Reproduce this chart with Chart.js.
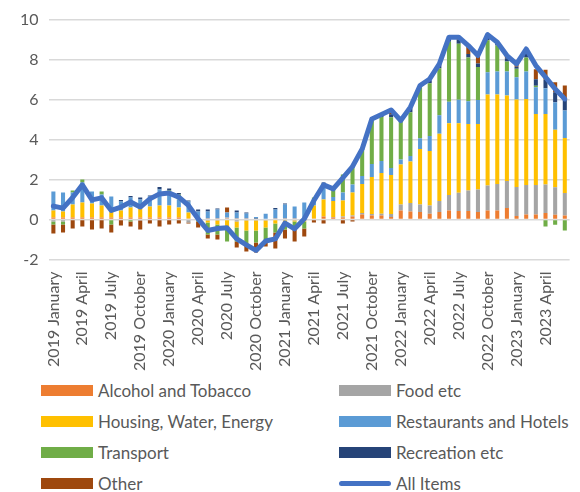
<!DOCTYPE html>
<html lang="en">
<head>
<meta charset="UTF-8">
<title>CPI contributions</title>
<script src="https://cdn.jsdelivr.net/npm/chart.js"></script>
<style>
  body { margin: 0; background: #fff; overflow: hidden; font-family: Lato, sans-serif; }
  #wrap { position: relative; width: 588px; height: 375px; }
  #legend { position: absolute; left: 41px; top: 375px; display: grid; grid-template-columns: 298px 250px; }
  .item { display: flex; align-items: center; height: 31px; font-size: 17px; color: #595959; white-space: nowrap; }
  .sw { width: 52px; height: 11px; margin-right: 5px; flex: none; }
  .sw.line { height: 5px; border-radius: 3px; }
</style>
</head>
<body>
<div id="wrap"><canvas id="cpiChart"></canvas></div>
<div id="legend"></div>

<script>
const months = [
  '2019 January','2019 February','2019 March','2019 April','2019 May','2019 June',
  '2019 July','2019 August','2019 September','2019 October','2019 November','2019 December',
  '2020 January','2020 February','2020 March','2020 April','2020 May','2020 June',
  '2020 July','2020 August','2020 September','2020 October','2020 November','2020 December',
  '2021 January','2021 February','2021 March','2021 April','2021 May','2021 June',
  '2021 July','2021 August','2021 September','2021 October','2021 November','2021 December',
  '2022 January','2022 February','2022 March','2022 April','2022 May','2022 June',
  '2022 July','2022 August','2022 September','2022 October','2022 November','2022 December',
  '2023 January','2023 February','2023 March','2023 April','2023 May','2023 June'
];

const alcohol = [0.1,0.1,0.1,0.1,0.1,0.1,0.1,0.1,0.1,0.1,0.1,0.1,0.1,0.1,0.05,0.05,0.05,0.05,
  0.05,0.05,0.05,0.02,0.03,0.05,0.05,0.05,0.05,0.05,0.15,0.1,0.1,0.15,0.25,0.2,0.2,0.12,
  0.45,0.4,0.37,0.28,0.37,0.45,0.42,0.42,0.37,0.45,0.45,0.57,0.17,0.25,0.25,0.32,0.23,0.2];
const food = [-0.1,-0.1,0,0,0,0,0,0,0,-0.05,0,0,0,0,-0.15,0,-0.05,-0.05,
  0.05,-0.1,-0.05,-0.05,-0.05,0,-0.05,-0.05,-0.05,0,0,0.02,0.05,0.05,0.07,0.07,0.08,0.15,
  0.3,0.42,0.38,0.42,0.55,0.78,0.92,1.03,1.13,1.25,1.33,1.35,1.45,1.48,1.48,1.43,1.38,1.12];
const housing = [0.35,0.3,0.65,0.75,0.7,0.6,0.3,0.35,0.5,0.45,0.55,0.6,0.6,0.5,0.3,0,-0.1,-0.2,
  -0.4,-0.3,-0.5,-0.5,-0.35,-0.2,-0.15,-0.05,-0.05,0.65,0.85,0.8,0.8,1.15,1.45,1.85,2.05,1.95,
  2.0,2.08,2.78,2.72,3.37,3.58,3.48,3.33,3.28,4.55,4.47,4.28,4.38,4.3,3.55,3.53,2.88,2.75];
const restaurants = [0.95,0.95,0.6,1.0,0.6,0.55,0.75,0.45,0.5,0.45,0.5,0.8,0.55,0.4,0.55,0.35,0.35,0.45,
  0.25,0.3,0.25,0.1,0.25,0.45,0.7,0.6,0.8,0.25,0.7,0.2,0.4,0.4,0.4,0.65,0.6,0.35,
  0.25,0.27,0.53,0.75,0.92,1.08,1.17,1.13,1.2,1.12,1.15,1.2,1.12,1.37,1.33,1.28,1.37,1.38];
const transport = [-0.15,-0.15,0.1,0.15,0,0.15,-0.25,0,-0.1,0,0,0,0.2,0.25,0,-0.1,-0.6,-0.5,
  -0.7,-0.7,-0.7,-0.6,-0.6,-0.45,-0.3,-0.35,-0.35,0.15,0.1,0.4,0.9,0.9,1.3,2.2,2.2,2.55,
  1.9,2.2,2.55,2.65,2.35,3.0,2.8,2.2,1.65,1.6,1.3,0.5,0.42,0.7,0.08,-0.35,-0.27,-0.55];
const recreation = [0,0,0,0,0,0,0,0.07,0.08,0.1,0.05,0.12,0.1,0.07,0.05,0.1,0.1,0.05,
  0,0.1,0.05,0,0,0.07,0.05,0,0,0,0.05,0,0,0.05,0.05,0.05,0.1,0.15,
  0.05,0.2,0.15,0.15,0.2,0.2,0.2,0.17,0.17,0.2,0.12,0.17,0.1,0.2,0.33,0.43,0.5,0.58];
const other = [-0.45,-0.4,-0.45,-0.35,-0.5,-0.45,-0.4,-0.3,-0.25,-0.45,-0.2,-0.35,-0.25,-0.2,-0.05,-0.3,-0.2,-0.25,
  0.25,-0.3,-0.35,-0.5,-0.35,-0.8,-0.45,-0.65,-0.4,-0.15,-0.2,0,-0.2,-0.1,0,0,0,0.2,
  0,0,0,0,0,0,0.13,0.42,0.38,0,0,0.12,0.1,0.13,0.5,0.5,0.5,0.67];
const allItems = [0.67,0.57,1.1,1.73,0.98,1.08,0.45,0.62,0.87,0.62,1.03,1.28,1.32,1.12,0.7,0.03,-0.55,-0.45,
  -0.42,-0.97,-1.27,-1.55,-1.08,-0.97,-0.18,-0.47,0.03,0.95,1.73,1.53,2.08,2.65,3.53,5.03,5.25,5.48,
  4.95,5.62,6.7,7.03,7.78,9.12,9.12,8.7,8.2,9.25,8.87,8.2,7.78,8.53,7.7,7.12,6.53,6.03];

const seriesNames = ['Alcohol and Tobacco','Food etc','Housing, Water, Energy','Restaurants and Hotels',
  'Transport','Recreation etc','Other'];
const seriesData = [alcohol, food, housing, restaurants, transport, recreation, other];
const seriesColors = ['#ED7D31','#A5A5A5','#FFC000','#5B9BD5','#70AD47','#264478','#9E480E'];

const textColor = '#595959';
Chart.defaults.font.family = 'Lato, sans-serif';
Chart.defaults.color = textColor;

const datasets = seriesNames.map((name, i) => ({
  type: 'bar',
  label: name,
  data: seriesData[i],
  backgroundColor: seriesColors[i],
  stack: 'parts',
  order: 1,
  barPercentage: 0.42,
  categoryPercentage: 1
}));
datasets.push({
  type: 'line',
  label: 'All Items',
  data: allItems,
  borderColor: '#4472C4',
  backgroundColor: '#4472C4',
  borderWidth: 5,
  borderJoinStyle: 'round',
  borderCapStyle: 'round',
  pointRadius: 0,
  tension: 0,
  stack: 'total',
  order: 0
});

// html legend, two columns like the original
const htmlLegend = {
  id: 'htmlLegend',
  afterUpdate(chart) {
    const box = document.getElementById('legend');
    box.innerHTML = '';
    chart.data.datasets.forEach(ds => {
      const item = document.createElement('div');
      item.className = 'item';
      const sw = document.createElement('span');
      sw.className = ds.type === 'line' ? 'sw line' : 'sw';
      sw.style.background = ds.type === 'line' ? ds.borderColor : ds.backgroundColor;
      item.appendChild(sw);
      item.appendChild(document.createTextNode(ds.label));
      box.appendChild(item);
    });
  }
};

new Chart(document.getElementById('cpiChart'), {
  data: { labels: months, datasets: datasets },
  plugins: [htmlLegend],
  options: {
    responsive: true,
    maintainAspectRatio: false,
    animation: false,
    layout: { padding: { top: 12, right: 0, left: 10, bottom: 0 } },
    plugins: {
      legend: { display: false },
      tooltip: { enabled: false }
    },
    scales: {
      x: {
        stacked: true,
        grid: { display: false },
        border: { display: false },
        ticks: {
          autoSkip: false,
          maxRotation: 90,
          minRotation: 90,
          padding: 4,
          font: { size: 16 },
          callback: (v, i) => i % 3 === 0 ? months[i] : ''
        }
      },
      y: {
        stacked: true,
        min: -2,
        max: 10,
        grid: { color: '#D9D9D9', lineWidth: 1.5, drawTicks: false },
        border: { display: false },
        ticks: { stepSize: 2, padding: 10, font: { size: 16 } }
      }
    }
  }
});
</script>
</body>
</html>
